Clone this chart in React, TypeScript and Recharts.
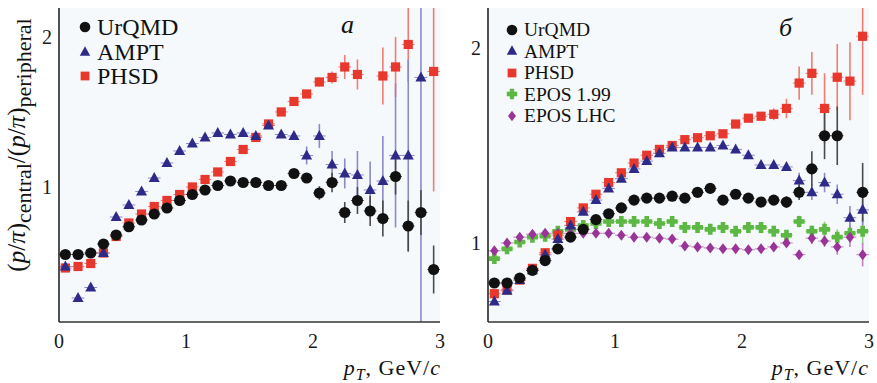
import { ScatterChart, Scatter, XAxis, YAxis, ErrorBar, CartesianGrid, Legend } from "recharts"

const FONT = "'Liberation Serif', 'Times New Roman', serif"

// bin centres, GeV/c
const pT = [
  0.05, 0.15, 0.25, 0.35, 0.45, 0.55, 0.65, 0.75, 0.85, 0.95,
  1.05, 1.15, 1.25, 1.35, 1.45, 1.55, 1.65, 1.75, 1.85, 1.95,
  2.05, 2.15, 2.25, 2.35, 2.45, 2.55, 2.65, 2.75, 2.85, 2.95,
]
const BIN_HALF = 0.05
const xTicks = [0, 1, 2, 3]
const yTicks = [1, 2]

// panel a
const urqmdA = [0.55, 0.55, 0.56, 0.62, 0.68, 0.735, 0.78, 0.82, 0.86, 0.91, 0.95, 0.98, 1.01, 1.04, 1.03, 1.03, 1.01, 1.01, 1.09, 1.06, 0.96, 1.03, 0.83, 0.91, 0.84, 0.79, 1.07, 0.74, 0.83, 0.45]
const urqmdAErr = [0.01, 0.01, 0.01, 0.01, 0.01, 0.01, 0.01, 0.01, 0.01, 0.01, 0.01, 0.01, 0.01, 0.01, 0.02, 0.02, 0.02, 0.02, 0.03, 0.03, 0.045, 0.065, 0.07, 0.09, 0.1, 0.12, 0.12, 0.17, 0.15, 0.16]
const amptA = [0.47, 0.26, 0.33, 0.56, 0.8, 0.88, 0.97, 1.06, 1.16, 1.24, 1.29, 1.33, 1.36, 1.35, 1.36, 1.34, 1.41, 1.35, 1.34, 1.21, 1.34, 1.15, 1.09, 1.08, 0.98, 1.04, 1.21, 1.21, 1.73, null]
const amptAErr = [0.01, 0.01, 0.01, 0.01, 0.01, 0.01, 0.01, 0.01, 0.01, 0.01, 0.01, 0.01, 0.01, 0.01, 0.01, 0.01, 0.01, 0.01, 0.01, 0.06, 0.08, 0.09, 0.1, 0.16, 0.19, 0.3, 0.48, 0.64, 1.8, null]
const phsdA = [0.46, 0.47, 0.49, 0.56, 0.67, 0.76, 0.82, 0.87, 0.91, 0.95, 1.0, 1.05, 1.1, 1.17, 1.25, 1.33, 1.42, 1.5, 1.57, 1.62, 1.7, 1.73, 1.8, 1.75, null, 1.74, 1.8, 1.95, null, 1.77]
const phsdAErr = [0.01, 0.01, 0.01, 0.01, 0.01, 0.01, 0.01, 0.01, 0.01, 0.01, 0.01, 0.01, 0.01, 0.01, 0.01, 0.01, 0.01, 0.01, 0.02, 0.02, 0.03, 0.04, 0.08, 0.1, null, 0.19, 0.2, 0.25, null, 0.8]

// panel б
const urqmdB = [0.795, 0.795, 0.82, 0.86, 0.91, 0.97, 1.03, 1.07, 1.12, 1.15, 1.18, 1.22, 1.23, 1.23, 1.24, 1.23, 1.26, 1.28, 1.22, 1.25, 1.23, 1.21, 1.22, 1.21, 1.26, 1.38, 1.55, 1.55, null, 1.26]
const urqmdBErr = [0.01, 0.01, 0.01, 0.01, 0.01, 0.01, 0.01, 0.01, 0.01, 0.01, 0.01, 0.01, 0.01, 0.01, 0.01, 0.01, 0.01, 0.01, 0.01, 0.01, 0.01, 0.01, 0.02, 0.03, 0.04, 0.09, 0.12, 0.15, null, 0.15]
const amptB = [0.7, 0.755, 0.81, 0.86, 0.94, 1.02, 1.09, 1.16, 1.22, 1.28, 1.33, 1.38, 1.42, 1.46, 1.49, 1.49, 1.49, 1.49, 1.5, 1.48, 1.45, 1.4, 1.4, 1.39, 1.32, 1.26, 1.31, 1.25, 1.13, 1.17]
const amptBErr = [0.01, 0.01, 0.01, 0.01, 0.01, 0.01, 0.01, 0.01, 0.01, 0.01, 0.01, 0.01, 0.01, 0.01, 0.01, 0.01, 0.01, 0.01, 0.01, 0.01, 0.01, 0.01, 0.01, 0.01, 0.04, 0.04, 0.05, 0.05, 0.06, 0.08]
const phsdB = [0.74, 0.76, 0.81, 0.87, 0.95, 1.04, 1.11, 1.18, 1.25, 1.31, 1.36, 1.41, 1.45, 1.48, 1.5, 1.53, 1.54, 1.55, 1.56, 1.61, 1.64, 1.65, 1.66, 1.69, 1.82, 1.87, 1.69, 1.85, 1.83, 2.06]
const phsdBErr = [0.01, 0.01, 0.01, 0.01, 0.01, 0.01, 0.01, 0.01, 0.01, 0.01, 0.01, 0.01, 0.01, 0.01, 0.01, 0.01, 0.01, 0.01, 0.01, 0.01, 0.01, 0.01, 0.03, 0.05, 0.085, 0.11, 0.18, 0.17, 0.2, 0.3]
const epos199 = [0.92, 0.97, 1.005, 1.03, 1.035, 1.06, 1.07, 1.09, 1.1, 1.11, 1.11, 1.11, 1.11, 1.1, 1.11, 1.08, 1.08, 1.07, 1.08, 1.06, 1.08, 1.08, 1.06, 1.04, 1.11, 1.06, 1.07, 1.03, 1.05, 1.06]
const epos199Err = [0.01, 0.01, 0.01, 0.01, 0.01, 0.01, 0.01, 0.01, 0.01, 0.01, 0.01, 0.01, 0.01, 0.01, 0.01, 0.01, 0.01, 0.01, 0.01, 0.01, 0.01, 0.01, 0.01, 0.01, 0.03, 0.03, 0.04, 0.04, 0.05, 0.07]
const eposLhc = [0.96, 1.0, 1.03, 1.045, 1.05, 1.05, 1.05, 1.05, 1.05, 1.05, 1.04, 1.03, 1.03, 1.025, 1.02, 0.985, 0.98, 0.975, 0.97, 0.97, 0.965, 0.97, 0.98, 1.0, 0.94, 1.025, 1.01, 0.98, 1.03, 0.94]
const eposLhcErr = [0.01, 0.01, 0.01, 0.01, 0.01, 0.01, 0.01, 0.01, 0.01, 0.01, 0.01, 0.01, 0.01, 0.01, 0.01, 0.01, 0.01, 0.01, 0.01, 0.01, 0.01, 0.01, 0.01, 0.01, 0.02, 0.03, 0.03, 0.04, 0.05, 0.06]

type Kind = "circle" | "triangle" | "square" | "plus" | "diamond"

type Series = {
  name: string
  kind: Kind
  color: string
  errColor: string
  vals: (number | null)[]
  errs: (number | null)[]
}

const BLACK = { color: "#111111", errColor: "#4a4a4a" }
const BLUE = { color: "#2e2a88", errColor: "#8c89c9" }
const RED = { color: "#e8372c", errColor: "#f07c72" }
const GREEN = { color: "#5cb842", errColor: "#93d27c" }
const PURPLE = { color: "#993596", errColor: "#c582c1" }

// draw order: later ones sit on top
const seriesA: Series[] = [
  { name: "PHSD", kind: "square", ...RED, vals: phsdA, errs: phsdAErr },
  { name: "AMPT", kind: "triangle", ...BLUE, vals: amptA, errs: amptAErr },
  { name: "UrQMD", kind: "circle", ...BLACK, vals: urqmdA, errs: urqmdAErr },
]
const legendA = ["UrQMD", "AMPT", "PHSD"]

const seriesB: Series[] = [
  { name: "EPOS 1.99", kind: "plus", ...GREEN, vals: epos199, errs: epos199Err },
  { name: "EPOS LHC", kind: "diamond", ...PURPLE, vals: eposLhc, errs: eposLhcErr },
  { name: "PHSD", kind: "square", ...RED, vals: phsdB, errs: phsdBErr },
  { name: "AMPT", kind: "triangle", ...BLUE, vals: amptB, errs: amptBErr },
  { name: "UrQMD", kind: "circle", ...BLACK, vals: urqmdB, errs: urqmdBErr },
]
const legendB = ["UrQMD", "AMPT", "PHSD", "EPOS 1.99", "EPOS LHC"]

// error bars are cut at the frame, as in the original figure
const toRows = (vals: (number | null)[], errs: (number | null)[], dom: [number, number]) =>
  pT
    .map((x, i) => {
      const y = vals[i]
      const e = errs[i] ?? 0
      return {
        x,
        y,
        ey: y === null ? [0, 0] : [Math.min(e, y - dom[0]), Math.min(e, dom[1] - y)],
        ex: BIN_HALF,
      }
    })
    .filter((r) => r.y !== null)

const Marker = ({ kind, cx, cy, color, s = 1 }: { kind: Kind; cx: number; cy: number; color: string; s?: number }) => {
  switch (kind) {
    case "circle":
      return <circle cx={cx} cy={cy} r={5.6 * s} fill={color} />
    case "triangle":
      return (
        <polygon
          points={`${cx},${cy - 6 * s} ${cx + 5.5 * s},${cy + 4 * s} ${cx - 5.5 * s},${cy + 4 * s}`}
          fill={color}
        />
      )
    case "square":
      return <rect x={cx - 4.6 * s} y={cy - 4.6 * s} width={9.2 * s} height={9.2 * s} fill={color} />
    case "plus": {
      const a = 5.5 * s
      const w = 2.3 * s
      return (
        <path
          d={`M${cx - w},${cy - a}H${cx + w}V${cy - w}H${cx + a}V${cy + w}H${cx + w}V${cy + a}H${cx - w}V${cy + w}H${cx - a}V${cy - w}H${cx - w}Z`}
          fill={color}
        />
      )
    }
    case "diamond":
      return (
        <polygon
          points={`${cx},${cy - 5.5 * s} ${cx + 4.2 * s},${cy} ${cx},${cy + 5.5 * s} ${cx - 4.2 * s},${cy}`}
          fill={color}
        />
      )
  }
}

const LegendBox = ({ names, series, rowH, fontSize }: { names: string[]; series: Series[]; rowH: number; fontSize: number }) => (
  <div style={{ fontFamily: FONT, fontSize, color: "#111", textAlign: "left" }}>
    {names.map((n) => {
      const s = series.find((q) => q.name === n)!
      return (
        <div key={n} style={{ display: "flex", alignItems: "center", height: rowH, whiteSpace: "nowrap" }}>
          <svg width={14} height={14} style={{ flex: "none" }}>
            <Marker kind={s.kind} cx={7} cy={7} color={s.color} s={0.95} />
          </svg>
          <span style={{ marginLeft: 5, fontFamily: FONT, fontSize, lineHeight: `${rowH}px` }}>{n}</span>
        </div>
      )
    })}
  </div>
)

const axisStroke = { stroke: "#333", strokeWidth: 1.7 }
const tickStroke = { stroke: "#333", strokeWidth: 1.4 }
const tickFont = { fontFamily: FONT, fontSize: 20, fill: "#1a1a1a" }
const blank = () => ""

const Panel = ({
  series,
  legendNames,
  legendPos,
  rowH,
  legendFont,
  yDomain,
  width,
  yAxisWidth,
  marginLeft,
  marginRight,
}: {
  series: Series[]
  legendNames: string[]
  legendPos: { left: number; top: number }
  rowH: number
  legendFont: number
  yDomain: [number, number]
  width: number
  yAxisWidth: number
  marginLeft: number
  marginRight: number
}) => (
  <ScatterChart
    width={width}
    height={383}
    margin={{ top: 8, right: marginRight, bottom: 31, left: marginLeft }}
  >
    <CartesianGrid horizontal={false} vertical={false} fill="#f5f9fc" />
    <XAxis
      xAxisId="b"
      type="number"
      dataKey="x"
      domain={[0, 3]}
      ticks={xTicks}
      allowDataOverflow
      height={30}
      tickLine={false}
      tickSize={0}
      tickMargin={12}
      axisLine={axisStroke}
      tick={tickFont}
    />
    <XAxis
      xAxisId="bm"
      type="number"
      domain={[0, 3]}
      ticks={xTicks}
      allowDataOverflow
      mirror
      height={0}
      tickSize={9}
      tickLine={tickStroke}
      axisLine={false}
      tickFormatter={blank}
    />
    <XAxis
      xAxisId="t"
      orientation="top"
      type="number"
      domain={[0, 3]}
      ticks={xTicks}
      allowDataOverflow
      mirror
      height={0}
      tickSize={9}
      tickLine={tickStroke}
      axisLine={axisStroke}
      tickFormatter={blank}
    />
    <YAxis
      yAxisId="l"
      type="number"
      dataKey="y"
      domain={yDomain}
      ticks={yTicks}
      allowDataOverflow
      width={yAxisWidth}
      tickLine={false}
      tickSize={0}
      tickMargin={7}
      axisLine={axisStroke}
      tick={tickFont}
    />
    <YAxis
      yAxisId="lm"
      type="number"
      domain={yDomain}
      ticks={yTicks}
      allowDataOverflow
      mirror
      width={0}
      tickSize={9}
      tickLine={tickStroke}
      axisLine={false}
      tickFormatter={blank}
    />
    <YAxis
      yAxisId="r"
      orientation="right"
      type="number"
      domain={yDomain}
      ticks={yTicks}
      allowDataOverflow
      mirror
      width={0}
      tickSize={9}
      tickLine={tickStroke}
      axisLine={axisStroke}
      tickFormatter={blank}
    />
    <Legend
      layout="vertical"
      align="center"
      verticalAlign="middle"
      wrapperStyle={{ left: legendPos.left, top: legendPos.top, width: "auto", height: "auto" }}
      content={() => <LegendBox names={legendNames} series={series} rowH={rowH} fontSize={legendFont} />}
    />
    {series.map((s) => (
      <Scatter
        key={s.name}
        name={s.name}
        xAxisId="b"
        yAxisId="l"
        data={toRows(s.vals, s.errs, yDomain)}
        isAnimationActive={false}
        shape={(p: any) => <Marker kind={s.kind} cx={p.cx} cy={p.cy} color={s.color} />}
      >
        <ErrorBar dataKey="ex" direction="x" width={0} stroke={s.errColor} strokeWidth={1} isAnimationActive={false} />
        <ErrorBar dataKey="ey" direction="y" width={0} stroke={s.errColor} strokeWidth={1.6} isAnimationActive={false} />
      </Scatter>
    ))}
  </ScatterChart>
)

const XLabel = ({ right }: { right: number }) => (
  <div
    style={{
      position: "absolute",
      right,
      top: 355,
      fontFamily: FONT,
      fontSize: 22,
      letterSpacing: 1,
      lineHeight: "26px",
      whiteSpace: "nowrap",
      color: "#111",
    }}
  >
    <i>p</i>
    <sub style={{ fontSize: 16, fontStyle: "italic" }}>T</sub>, GeV/<i>c</i>
  </div>
)

export default function App() {
  return (
    <div style={{ position: "absolute", left: 0, top: 0, width: 877, height: 383, background: "#fff", overflow: "hidden" }}>
      <div style={{ position: "absolute", left: 0, top: 0 }}>
        <Panel
          series={seriesA}
          legendNames={legendA}
          legendPos={{ left: 78, top: 15 }}
          rowH={24.5}
          legendFont={24}
          yDomain={[0.1, 2.193]}
          width={450}
          yAxisWidth={40}
          marginLeft={19}
          marginRight={10}
        />
      </div>
      <div style={{ position: "absolute", left: 450, top: 0 }}>
        <Panel
          series={seriesB}
          legendNames={legendB}
          legendPos={{ left: 55, top: 19 }}
          rowH={21.5}
          legendFont={19.5}
          yDomain={[0.595, 2.205]}
          width={427}
          yAxisWidth={30}
          marginLeft={8}
          marginRight={8}
        />
      </div>

      {/* y axis title */}
      <div
        style={{
          position: "absolute",
          left: 20,
          top: 145,
          transform: "translate(-50%, -50%) rotate(-90deg)",
          whiteSpace: "nowrap",
          fontFamily: FONT,
          fontSize: 25,
          lineHeight: "28px",
          color: "#111",
        }}
      >
        (<i>p</i>/<i>π</i>)<sub style={{ fontSize: 22 }}>central</sub>/(<i>p</i>/<i>π</i>)<sub style={{ fontSize: 22 }}>peripheral</sub>
      </div>

      <XLabel right={877 - 441} />
      <XLabel right={877 - 869} />

      {/* panel letters */}
      <div style={{ position: "absolute", left: 341, top: 12, fontFamily: FONT, fontSize: 26, fontStyle: "italic", lineHeight: "26px", color: "#111" }}>
        а
      </div>
      <div style={{ position: "absolute", left: 779, top: 15, fontFamily: FONT, fontSize: 26, fontStyle: "italic", lineHeight: "26px", color: "#111" }}>
        б
      </div>
    </div>
  )
}
